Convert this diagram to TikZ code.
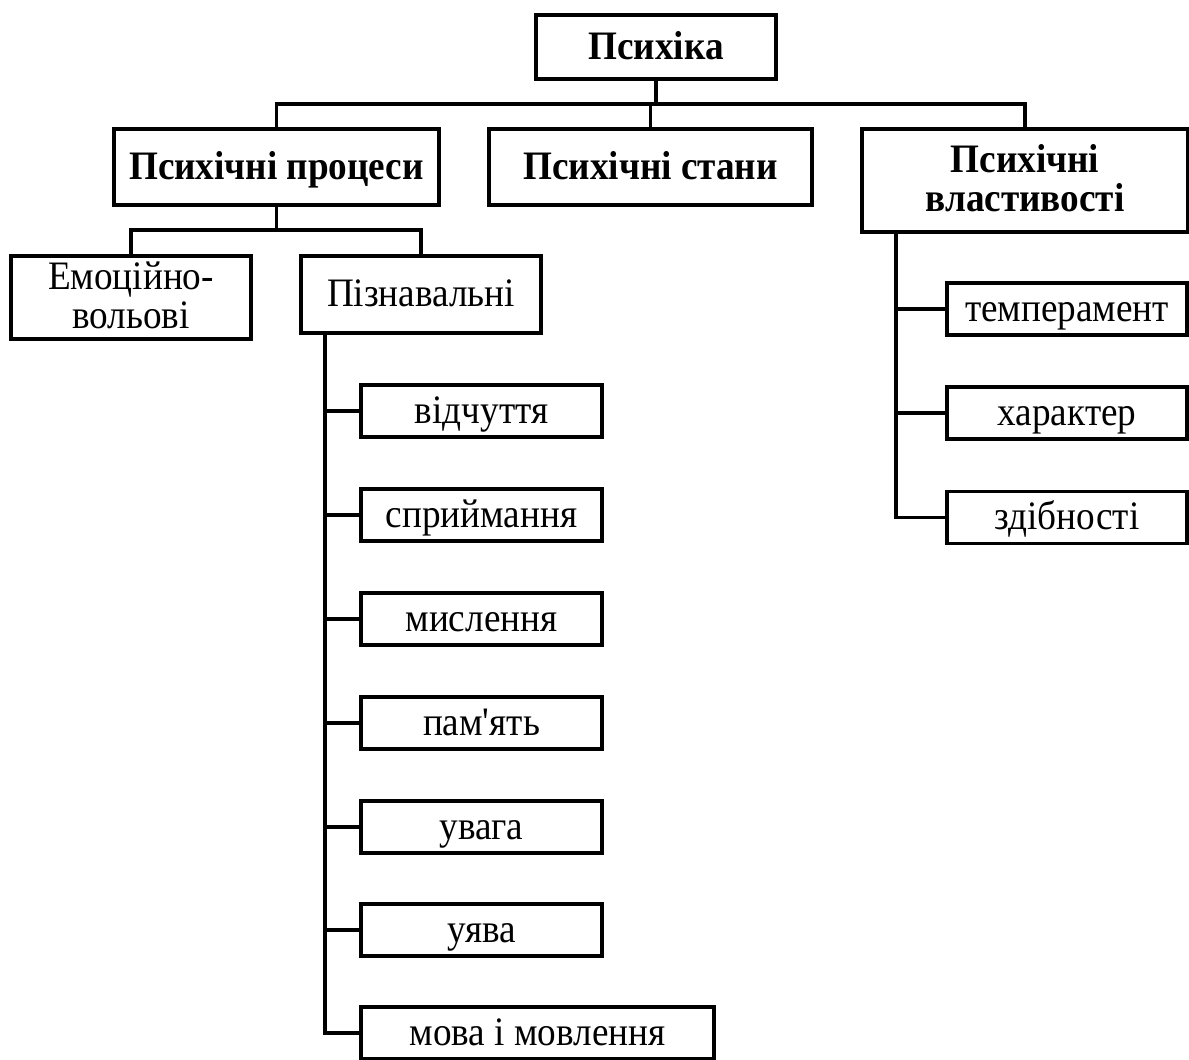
\documentclass[tikz,border=0pt]{standalone}
\usepackage{fontspec}
\setmainfont{Liberation Serif}[FakeStretch=0.92,Ligatures=TeXOff]
\usetikzlibrary{positioning,calc}
\tikzset{
  blk/.style={draw,rectangle,line width=1.8pt,inner sep=0pt,align=center,font=\fontsize{23}{22}\selectfont},
  oneln/.style={text height=14pt,text depth=0pt},
  twoln/.style={text height=35pt,text depth=0pt},
  topblk/.style={blk,font=\fontsize{23}{22}\selectfont\bfseries},
  subblk/.style={blk,oneln,minimum width=4.82cm,minimum height=1.04cm},
  propblk/.style={blk,oneln,minimum width=4.8cm,minimum height=1.04cm},
  ln/.style={line width=1.8pt}
}

\begin{document}
\begin{tikzpicture}[x=0.02cm,y=-0.02cm]
  \useasboundingbox (0,0) rectangle (1189,1059);
  % top level
  \node[topblk,oneln,minimum width=4.8cm,minimum height=1.28cm] (psy) at (656,47) {Психіка};
  \node[topblk,oneln,minimum width=6.5cm,minimum height=1.52cm] (proc) at (276.5,167) {Психічні процеси};
  \node[topblk,oneln,minimum width=6.46cm,minimum height=1.52cm] (stan) at (650.5,167) {Психічні стани};
  \node[topblk,twoln,minimum width=6.52cm,minimum height=2.06cm] (prop) at (1025,180.5) {Психічні\\властивості};
  % processes
  \node[blk,twoln,minimum width=4.8cm,minimum height=1.66cm] (emo) at (131,297.5) {Емоційно-\\вольові};
  \node[blk,oneln,minimum width=4.8cm,minimum height=1.54cm] (pizn) at (421,294.5) {Пізнавальні};
  \node[subblk] (s1) at (481.5,411) {відчуття};
  \node[subblk] (s2) at (481.5,515) {сприймання};
  \node[subblk] (s3) at (481.5,619) {мислення};
  \node[subblk] (s4) at (481.5,723) {пам'ять};
  \node[subblk] (s5) at (481.5,827) {увага};
  \node[subblk] (s6) at (481.5,930) {уява};
  \node[subblk,minimum width=7.06cm] (s7) at (537.5,1033) {мова і мовлення};
  % properties
  \node[propblk] (p1) at (1067,309) {темперамент};
  \node[propblk] (p2) at (1067,413) {характер};
  \node[propblk] (p3) at (1067,517.5) {здібності};

  \coordinate (bus) at (656,104);
  \coordinate (pbus) at (276.5,230);
  \coordinate (pspine) at (325,333);
  \coordinate (vspine) at (896,232);

  \draw[ln] (psy.south) -- (bus);
  \draw[ln] (proc.north) |- (bus -| prop.north) -- (prop.north);
  \draw[ln] (stan.north) -- (stan.north |- bus);
  \draw[ln] (proc.south) -- (pbus);
  \draw[ln] (emo.north) |- (pbus -| pizn.north) -- (pizn.north);
  \draw[ln] (pspine) |- (s7.west);
  \foreach \n in {s1,s2,s3,s4,s5,s6}
    \draw[ln] (pspine |- \n.west) -- (\n.west);
  \draw[ln] (vspine) |- (p3.west);
  \foreach \n in {p1,p2}
    \draw[ln] (vspine |- \n.west) -- (\n.west);
\end{tikzpicture}
\end{document}
